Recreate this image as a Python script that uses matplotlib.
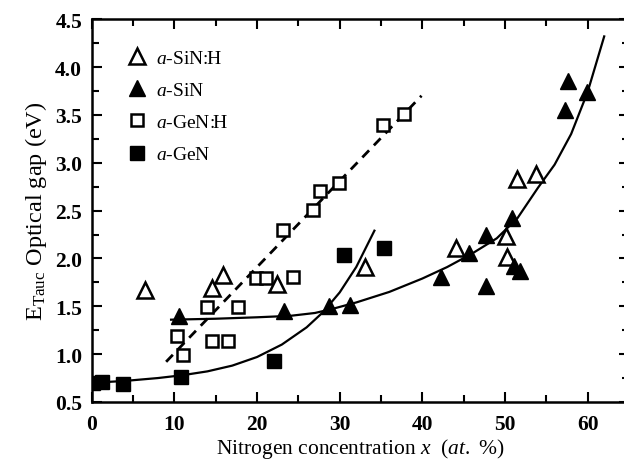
import matplotlib
matplotlib.use("Agg")
import matplotlib.pyplot as plt
from matplotlib.ticker import MultipleLocator

plt.rcParams["font.family"] = ["Liberation Serif", "DejaVu Serif"]
plt.rcParams["mathtext.fontset"] = "custom"
plt.rcParams["mathtext.rm"] = "Liberation Serif"
plt.rcParams["mathtext.it"] = "Liberation Serif:italic"

# a-SiN:H (open triangles)
sinh_x = [6.4, 14.5, 15.9, 22.4, 33.1, 44.1, 50.1, 50.3, 51.4, 53.8]
sinh_y = [1.67, 1.69, 1.83, 1.73, 1.91, 2.11, 2.23, 2.02, 2.83, 2.88]

# a-SiN (filled triangles)
sin_x = [10.6, 23.3, 28.7, 31.3, 42.3, 45.7, 47.7, 47.7, 50.9, 51.1, 51.8, 57.3, 57.6, 59.9]
sin_y = [1.40, 1.45, 1.50, 1.51, 1.81, 2.06, 2.25, 1.71, 2.42, 1.92, 1.87, 3.55, 3.85, 3.74]

# a-GeN:H (open squares)
genh_x = [10.3, 11.1, 13.9, 14.6, 16.5, 17.7, 19.9, 21.1, 23.1, 24.4, 26.8, 27.6, 29.9, 35.2, 37.8]
genh_y = [1.19, 0.99, 1.49, 1.14, 1.14, 1.49, 1.80, 1.80, 2.30, 1.81, 2.51, 2.70, 2.79, 3.39, 3.51]

# a-GeN (filled squares)
gen_x = [0.2, 1.2, 3.8, 10.8, 22.0, 30.5, 35.3]
gen_y = [0.70, 0.71, 0.69, 0.76, 0.93, 2.04, 2.11]

# guide curves
fit_genh_x = [9.0, 39.9]
fit_genh_y = [0.92, 3.70]

fit_gen_x = [0, 4, 8, 11, 14, 17, 20, 23, 26, 28, 30, 32, 34.2]
fit_gen_y = [0.70, 0.72, 0.75, 0.78, 0.82, 0.88, 0.97, 1.10, 1.28, 1.44, 1.645, 1.91, 2.29]

fit_sin_x = [9.6, 15, 20, 24, 27, 29, 32, 36, 40, 43, 46, 49, 51.5, 54, 56, 58, 60, 62]
fit_sin_y = [1.36, 1.37, 1.385, 1.40, 1.43, 1.47, 1.54, 1.65, 1.79, 1.91, 2.05, 2.21,
             2.42, 2.74, 2.98, 3.30, 3.74, 4.32]

fig = plt.figure(figsize=(6.24, 4.64), dpi=100)
ax = fig.add_axes([0.147, 0.1315, 0.861, 0.825])

ax.plot(fit_genh_x, fit_genh_y, color="black", lw=2.0, ls=(0, (3.5, 2.5)), zorder=2)
ax.plot(fit_gen_x, fit_gen_y, color="black", lw=1.6, zorder=2)
ax.plot(fit_sin_x, fit_sin_y, color="black", lw=1.6, zorder=2)

ax.plot(sinh_x, sinh_y, ls="none", marker="^", ms=11.5, mfc="white", mec="black",
        mew=1.8, label=r"$\it{a}$-SiN:H", zorder=3)
ax.plot(sin_x, sin_y, ls="none", marker="^", ms=11.5, mfc="black", mec="black",
        mew=1.0, label=r"$\it{a}$-SiN", zorder=3)
ax.plot(genh_x, genh_y, ls="none", marker="s", ms=9, mfc="white", mec="black",
        mew=1.8, label=r"$\it{a}$-GeN:H", zorder=3)
ax.plot(gen_x, gen_y, ls="none", marker="s", ms=10, mfc="black", mec="black",
        mew=1.0, label=r"$\it{a}$-GeN", zorder=3)

ax.set_xlim(0, 65)
ax.set_ylim(0.5, 4.5)
ax.xaxis.set_major_locator(MultipleLocator(10))
ax.xaxis.set_minor_locator(MultipleLocator(5))
ax.yaxis.set_major_locator(MultipleLocator(0.5))
ax.yaxis.set_minor_locator(MultipleLocator(0.25))
ax.tick_params(which="both", direction="in", top=True, right=True, width=1.5)
ax.tick_params(which="major", length=7, labelsize=15.5)
ax.tick_params(which="minor", length=5)
ax.tick_params(axis="x", which="major", pad=9)
ax.tick_params(axis="y", which="major", pad=7)
for lab in ax.get_xticklabels() + ax.get_yticklabels():
    lab.set_fontweight("bold")
for s in ax.spines.values():
    s.set_linewidth(1.8)

ax.set_xlabel(r"Nitrogen concentration $\it{x}$  ($\it{at.}$ %)", fontsize=15.5, labelpad=1)
ax.set_ylabel(r"E$_{\rm Tauc}$ Optical gap (eV)", fontsize=17.5, labelpad=4)

ax.legend(loc="upper left", bbox_to_anchor=(0.051, 0.942), frameon=False, fontsize=14,
          handlelength=1.0, handletextpad=0.5, labelspacing=0.75, borderaxespad=0)

fig.savefig("out.png", dpi=100)
